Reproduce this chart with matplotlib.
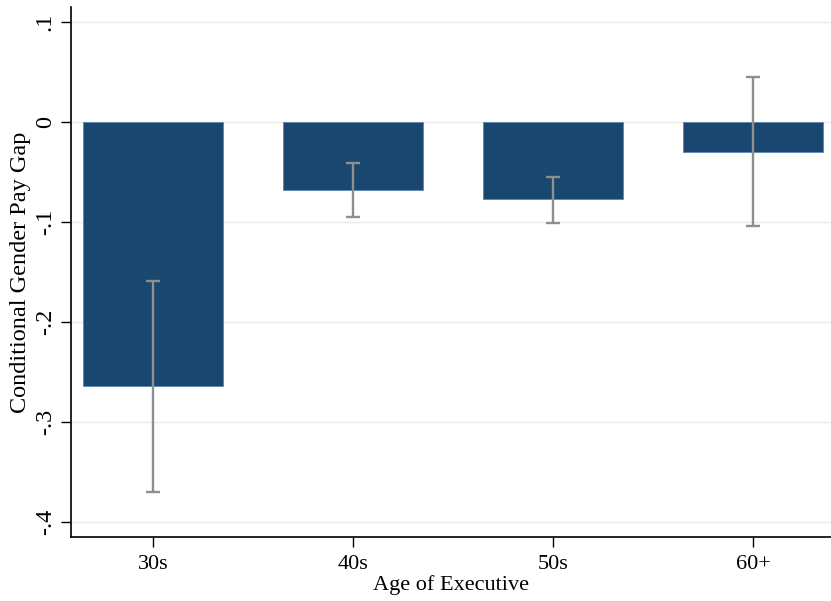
import matplotlib
matplotlib.use('Agg')
import matplotlib.pyplot as plt
import numpy as np

# age groups and the estimated gaps
ages = ['30s', '40s', '50s', '60+']
gap = [-0.264, -0.068, -0.077, -0.030]
ci_low = [-0.370, -0.095, -0.101, -0.104]
ci_high = [-0.159, -0.041, -0.055, 0.045]

plt.rcParams['font.family'] = ['Liberation Serif', 'DejaVu Serif']

fig = plt.figure(figsize=(8.31, 6.01), dpi=100)
ax = fig.add_axes([71/831, 64/601, 760/831, 530/601])

x = np.arange(len(ages))
gap = np.array(gap)
err = [gap - np.array(ci_low), np.array(ci_high) - gap]

ax.bar(x, gap, width=0.7, color='#1a476f', edgecolor='#5b86b0', linewidth=0.6, zorder=2)
ax.errorbar(x, gap, yerr=err, fmt='none', ecolor='#8f8f8f', elinewidth=1.7,
            capsize=5, capthick=1.7, zorder=3)

ax.set_xlim(-0.41, 3.39)
ax.set_ylim(-0.415, 0.115)
yt = [0.1, 0, -0.1, -0.2, -0.3, -0.4]
ax.set_yticks(yt)
ax.set_yticklabels(['.1', '0', '-.1', '-.2', '-.3', '-.4'], rotation=90, va='center', fontsize=17.5)
ax.set_xticks(x)
ax.set_xticklabels(ages, fontsize=16)
ax.yaxis.grid(True, color='#eaeaea', linewidth=1.0, zorder=0)
ax.set_axisbelow(True)

ax.spines['top'].set_visible(False)
ax.spines['right'].set_visible(False)
ax.spines['left'].set_linewidth(1.2)
ax.spines['bottom'].set_linewidth(1.2)
ax.tick_params(axis='both', length=7, width=1.0)
ax.tick_params(axis='y', pad=4)
ax.tick_params(axis='x', pad=6)

ax.set_ylabel('Conditional Gender Pay Gap', fontsize=17.5, labelpad=3)
ax.set_xlabel('Age of Executive', fontsize=16, labelpad=1)

fig.savefig('out.png', dpi=100)
